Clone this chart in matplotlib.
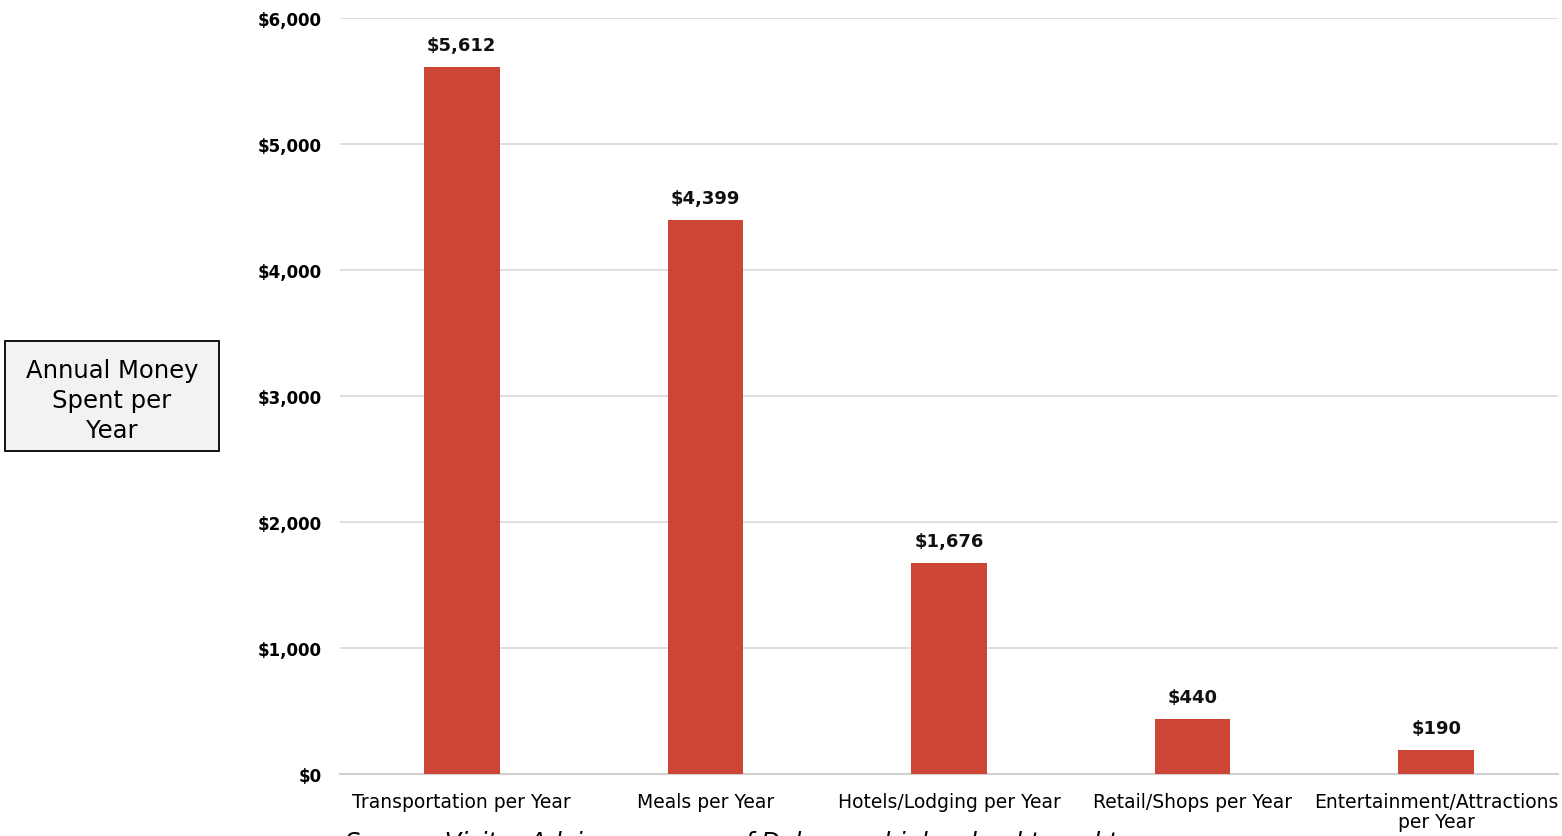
import matplotlib
matplotlib.use("Agg")
import matplotlib.pyplot as plt

categories = ["Transportation per Year", "Meals per Year", "Hotels/Lodging per Year",
              "Retail/Shops per Year", "Entertainment/Attractions\nper Year"]
values = [5612, 4399, 1676, 440, 190]
value_labels = ["$5,612", "$4,399", "$1,676", "$440", "$190"]
yticks = [0, 1000, 2000, 3000, 4000, 5000, 6000]
ytick_labels = ["$0", "$1,000", "$2,000", "$3,000", "$4,000", "$5,000", "$6,000"]

plt.rcParams['font.family'] = ['DejaVu Sans']

W, H = 1562, 837
fig = plt.figure(figsize=(W/100, H/100), dpi=100)
ax = fig.add_axes([340/W, 1-775/H, (1558-340)/W, (775-19)/H])

x = range(len(categories))
ax.bar(x, values, width=0.31, color="#CC4535", zorder=3)
for xi, v, lab in zip(x, values, value_labels):
    ax.text(xi, v + 100, lab, ha="center", va="bottom", fontsize=13, fontweight="bold", color="#111111")

ax.set_xlim(-0.5, len(categories) - 0.5)
ax.set_ylim(0, 6000)
ax.set_yticks(yticks)
ax.set_yticklabels(ytick_labels, fontsize=12, fontweight="bold")
ax.set_xticks(list(x))
ax.set_xticklabels(categories, fontsize=13.5, linespacing=1.05)
ax.tick_params(axis="y", length=0, pad=13)
ax.tick_params(axis="x", length=0, pad=13)
ax.yaxis.grid(True, color="#d9d9d9", linewidth=1.2, zorder=0)
for s in ["left", "right", "top"]:
    ax.spines[s].set_visible(False)
ax.spines["bottom"].set_color("#d0d0d0")
ax.spines["bottom"].set_linewidth(1.5)

# y label box
fig.patches.append(plt.Rectangle((5/W, 1-452/H), 214/W, 110/H, transform=fig.transFigure,
                                 facecolor="#f2f2f2", edgecolor="black", linewidth=1.3))
fig.text(112/W, 1-401/H, "Annual Money\nSpent per\nYear", ha="center", va="center",
         fontsize=17.5, linespacing=1.3)

fig.text(345/W, 1-843/H, "Source: Visitor Advisors survey of Delaware high school travel teams",
         ha="left", va="center", fontsize=17.5, style="italic")

fig.savefig("out.png", dpi=100)
